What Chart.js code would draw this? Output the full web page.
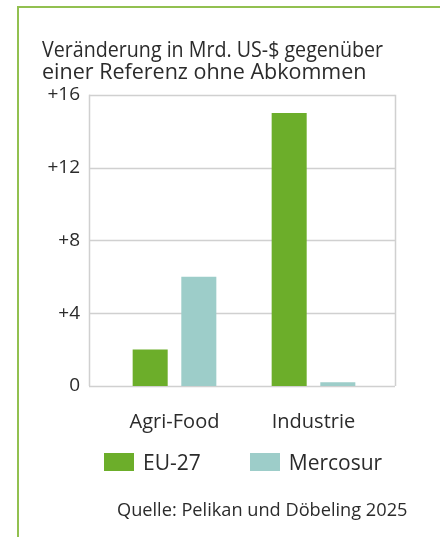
<!DOCTYPE html>
<html>
<head>
<meta charset="utf-8">
<script src="https://cdn.jsdelivr.net/npm/chart.js@4.4.1/dist/chart.umd.min.js"></script>
<style>
  html, body { margin: 0; padding: 0; background: #fff; }
  #wrap { position: relative; width: 440px; height: 537px; overflow: hidden; font-family: "Open Sans", sans-serif; color: #2b2b2b; }
  #frame { position: absolute; left: 17px; top: 6px; right: -10px; bottom: -10px;
           border-left: 2px solid #92c050; border-top: 2px solid #92c050; }
  canvas { position: absolute; left: 0; top: 0; }
  #legend-container { position: absolute; left: 104px; top: 453px; }
  #legend-container ul { list-style: none; margin: 0; padding: 0; display: flex; }
  #legend-container li { display: flex; align-items: center; font-size: 21px; line-height: 18px; }
  #legend-container li span { display: inline-block; width: 30px; height: 18px; margin-right: 9px; }
  #source { position: absolute; left: 117px; top: 497px; font-size: 18.2px; white-space: nowrap; }
</style>
</head>
<body>
<div id="wrap">
  <div id="frame"></div>
  <canvas id="chart" width="440" height="537"></canvas>
  <div id="legend-container"></div>
  <div id="source">Quelle: Pelikan und Döbeling 2025</div>
</div>
<script>
const categories = ['Agri-Food', 'Industrie'];
const eu27 = [2, 15];
const mercosur = [6, 0.2];
const yTicks = [0, 4, 8, 12, 16];
const colors = ['#6cae2a', '#9dcdc9'];

// Rahmen und Gitterlinien etwas breiter als die Chartfläche
const gridBox = {
  id: 'gridBox',
  beforeDatasetsDraw(chart) {
    const { ctx, chartArea } = chart;
    const y = chart.scales.y;
    const left = chartArea.left - 16, right = chartArea.right + 12;
    ctx.save();
    ctx.strokeStyle = '#d0d0d0';
    ctx.lineWidth = 1.5;
    yTicks.forEach(v => {
      const py = Math.round(y.getPixelForValue(v)) + 0.5;
      ctx.beginPath();
      ctx.moveTo(left, py);
      ctx.lineTo(right, py);
      ctx.stroke();
    });
    ctx.beginPath();
    ctx.moveTo(left + 0.5, y.getPixelForValue(16));
    ctx.lineTo(left + 0.5, y.getPixelForValue(0));
    ctx.moveTo(right + 0.5, y.getPixelForValue(16));
    ctx.lineTo(right + 0.5, y.getPixelForValue(0));
    ctx.stroke();
    ctx.restore();
  }
};

const htmlLegend = {
  id: 'htmlLegend',
  afterUpdate(chart) {
    let ul = document.createElement('ul');
    chart.data.datasets.forEach((ds, i) => {
      ul.innerHTML += `<li style="margin-right: ${i === 0 ? 49 : 0}px;">
        <span style="background-color: ${ds.backgroundColor};"></span>${ds.label}</li>`;
    });
    document.getElementById('legend-container').innerHTML = ul.outerHTML;
  }
};

new Chart(document.getElementById('chart'), {
  type: 'bar',
  data: {
    labels: categories,
    datasets: [
      { label: 'EU-27', data: eu27, backgroundColor: colors[0] },
      { label: 'Mercosur', data: mercosur, backgroundColor: colors[1] }
    ]
  },
  options: {
    responsive: false,
    animation: false,
    categoryPercentage: 0.7,
    barPercentage: 0.72,
    layout: { padding: { left: 42, right: 57, top: 39.5, bottom: 79 } },
    scales: {
      x: {
        grid: { display: false, drawTicks: false },
        border: { display: false },
        ticks: { color: '#2b2b2b', font: { family: 'Open Sans', size: 20 }, padding: 24 }
      },
      y: {
        min: 0, max: 16,
        grid: { display: false, drawTicks: false },
        border: { display: false },
        ticks: {
          stepSize: 4, color: '#2b2b2b', font: { family: 'Open Sans', size: 19 }, padding: 25,
          callback: v => v === 0 ? '0' : '+' + v
        },
        afterFit(scale) { scale.width = 63; }
      }
    },
    plugins: {
      title: {
        display: true,
        align: 'start',
        text: ['Veränderung in Mrd. US-$ gegenüber', 'einer Referenz ohne Abkommen'],
        color: '#2b2b2b',
        font: { family: 'Open Sans', size: 21.5, weight: 'normal', lineHeight: 1.03 },
        padding: { top: 0, bottom: 11 }
      },
      legend: { display: false },
      tooltip: { enabled: false }
    }
  },
  plugins: [gridBox, htmlLegend]
});
</script>
</body>
</html>
